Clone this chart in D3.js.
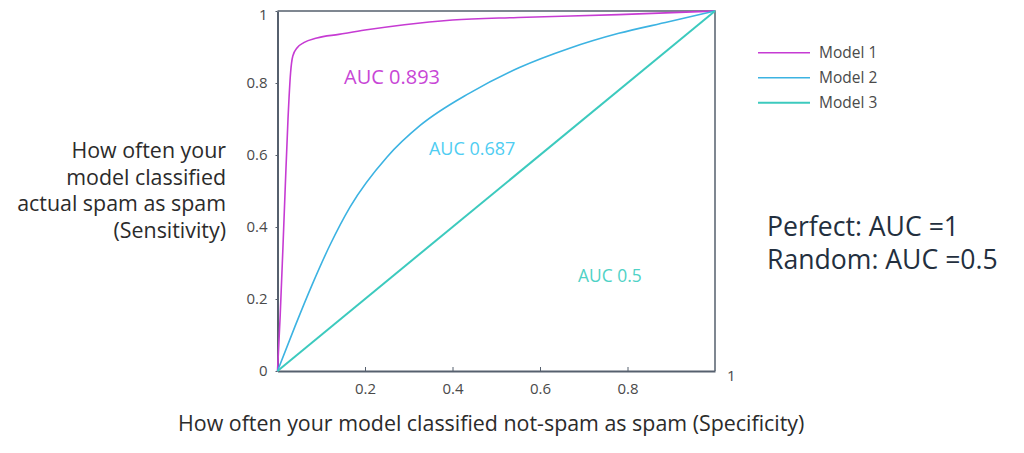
<!DOCTYPE html>
<html>
<head>
<meta charset="utf-8">
<script src="https://cdn.jsdelivr.net/npm/d3@7"></script>
<style>
	body{margin:0;background:#fff;}
	svg{display:block;font-family:"Open Sans",sans-serif;}
</style>
</head>
<body>
<svg id="chart" width="1024" height="453"></svg>
<script>
//Values.
var seriesNames = ["Model 1", "Model 2", "Model 3"];
var aucLabels = ["AUC 0.893", "AUC 0.687", "AUC 0.5"];
var model1X = [0, 0.006, 0.012, 0.018, 0.024, 0.03, 0.035, 0.045, 0.06, 0.09, 0.14, 0.2, 0.29, 0.4, 0.55, 0.78, 1];
var model1Y = [0, 0.15, 0.33, 0.52, 0.7, 0.83, 0.875, 0.898, 0.912, 0.925, 0.935, 0.947, 0.962, 0.975, 0.982, 0.99, 1];
var model2X = [0, 0.04, 0.08, 0.12, 0.166, 0.25, 0.326, 0.439, 0.553, 0.666, 0.78, 0.894, 1];
var model2Y = [0, 0.124, 0.242, 0.35, 0.456, 0.594, 0.682, 0.772, 0.843, 0.896, 0.938, 0.97, 1];
var model3X = [0, 1];
var model3Y = [0, 1];
var xTicks = [0.2, 0.4, 0.6, 0.8];
var yTicks = [0, 0.2, 0.4, 0.6, 0.8, 1];
var yTitle = ["How often your", "model classified", "actual spam as spam", "(Sensitivity)"];
var xTitle = "How often your model classified not-spam as spam (Specificity)";
var notes = ["Perfect: AUC =1", "Random: AUC =0.5"];

var lineColors = ["#c63bd3", "#3cb3e2", "#3ccabe"];
var textColors = ["#c846d6", "#4fcdf2", "#4fd2c6"];
var axisColor = "#56606e";

var svg = d3.select("#chart");

var x = d3.scaleLinear().domain([0, 1]).range([277.5, 715]);
var y = d3.scaleLinear().domain([0, 1]).range([371, 11]);

//Series as point arrays.
var series = [
	d3.zip(model1X, model1Y),
	d3.zip(model2X, model2Y),
	d3.zip(model3X, model3Y)
];

//Frame top and right.
svg.append("path")
	.attr("d", "M" + x(0) + "," + y(1) + "H" + x(1) + "V" + y(0))
	.attr("fill", "none")
	.attr("stroke", axisColor)
	.attr("stroke-width", 1.5);

//X axis, ticks pointing inward.
var xAxis = svg.append("g")
	.attr("transform", "translate(0," + y(0) + ")")
	.call(d3.axisBottom(x).tickValues(xTicks).tickSizeInner(-4).tickSizeOuter(0).tickPadding(12).tickFormat(d3.format("")));

//Y axis.
var yAxis = svg.append("g")
	.attr("transform", "translate(" + x(0) + ",0)")
	.call(d3.axisLeft(y).tickValues(yTicks).tickSizeInner(2).tickSizeOuter(0).tickPadding(8).tickFormat(d3.format("")));

[xAxis, yAxis].forEach(function(a){
	a.select(".domain").attr("stroke", axisColor).attr("stroke-width", 2);
	a.selectAll(".tick line").attr("stroke", axisColor).attr("stroke-width", 1);
	a.selectAll(".tick text")
		.attr("fill", "#4a4a4a")
		.style("font-size", "15px")
		.style("font-family", "'Open Sans',sans-serif");
});

//The top "1" sits a little below its tick.
yAxis.selectAll(".tick text").filter(function(d){ return d === 1; }).attr("dy", "0.55em");

//The lone "1" at the right end of the x axis.
svg.append("text")
	.attr("x", x(1) + 12)
	.attr("y", y(0) + 10)
	.attr("fill", "#4a4a4a")
	.style("font-size", "15px")
	.text(d3.format("")(1));

//Curves.
var line = d3.line()
	.x(function(d){ return x(d[0]); })
	.y(function(d){ return y(d[1]); })
	.curve(d3.curveMonotoneX);

svg.selectAll(".roc")
	.data(series)
	.enter()
	.append("path")
	.attr("class", "roc")
	.attr("d", line)
	.attr("fill", "none")
	.attr("stroke", function(d, i){ return lineColors[i]; })
	.attr("stroke-width", function(d, i){ return i === 2 ? 2 : 1.6; });

//AUC labels inside the plot.
var aucPos = [[0.152, 0.797, 20], [0.346, 0.6, 18], [0.687, 0.247, 17.4]];
svg.selectAll(".auc")
	.data(aucLabels)
	.enter()
	.append("text")
	.attr("class", "auc")
	.attr("x", function(d, i){ return x(aucPos[i][0]); })
	.attr("y", function(d, i){ return y(aucPos[i][1]); })
	.attr("fill", function(d, i){ return textColors[i]; })
	.style("font-size", function(d, i){ return aucPos[i][2] + "px"; })
	.text(function(d){ return d; });

//Legend.
var legend = svg.selectAll(".legend")
	.data(seriesNames)
	.enter()
	.append("g")
	.attr("class", "legend")
	.attr("transform", function(d, i){ return "translate(758," + (52.7 + i * 25) + ")"; });

legend.append("line")
	.attr("x1", 0)
	.attr("x2", 52)
	.attr("stroke", function(d, i){ return lineColors[i]; })
	.attr("stroke-width", function(d, i){ return i === 2 ? 2 : 1.6; });

legend.append("text")
	.attr("x", 61)
	.attr("dy", "0.35em")
	.attr("fill", "#4a4a4a")
	.style("font-size", "15.5px")
	.text(function(d){ return d; });

//Y title, right aligned.
svg.append("text")
	.attr("text-anchor", "end")
	.attr("fill", "#2b2b2b")
	.style("font-size", "21.4px")
	.selectAll("tspan")
	.data(yTitle)
	.enter()
	.append("tspan")
	.attr("x", 226)
	.attr("y", function(d, i){ return 158 + i * 26.7; })
	.text(function(d){ return d; });

//X title.
svg.append("text")
	.attr("x", 178)
	.attr("y", 431)
	.attr("fill", "#2b2b2b")
	.style("font-size", "21.4px")
	.text(xTitle);

//Notes on the right.
svg.selectAll(".note")
	.data(notes)
	.enter()
	.append("text")
	.attr("class", "note")
	.attr("x", 767)
	.attr("y", function(d, i){ return 236 + i * 32.5; })
	.attr("fill", "#232f3e")
	.style("font-size", "26.6px")
	.text(function(d){ return d; });
</script>
</body>
</html>
